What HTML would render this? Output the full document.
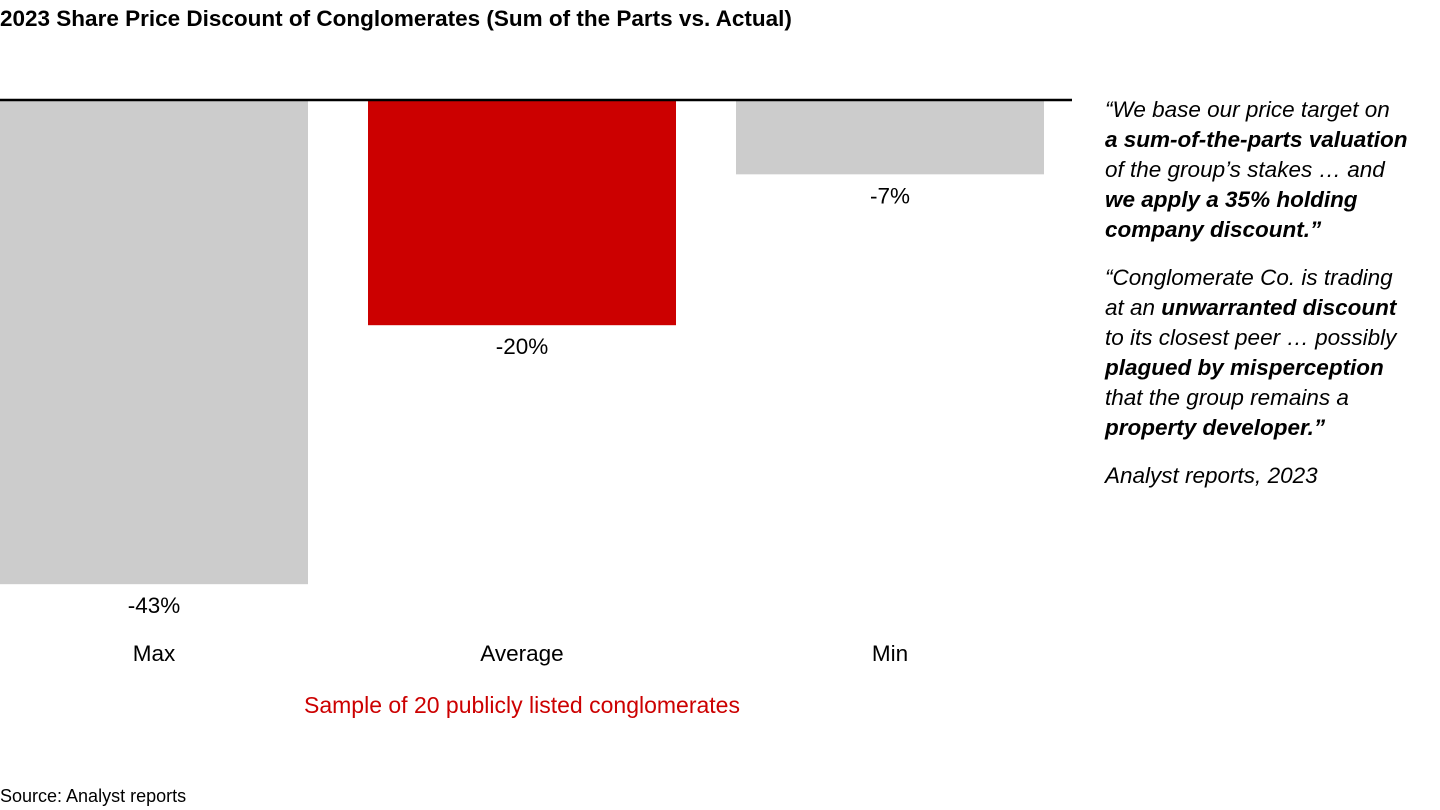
<!DOCTYPE html>
<html><head><meta charset="utf-8"><style>
body{margin:0;width:1440px;height:810px;background:#fff;font-family:"Liberation Sans",sans-serif;position:relative;overflow:hidden;color:#000}
.t{position:absolute;white-space:nowrap}
#quotes{position:absolute;left:1105px;top:95px;font-size:22.5px;font-style:italic;line-height:30px}
#quotes p{margin:0 0 18px 0}
</style></head><body>
<div class="t" style="left:0;top:6px;font-size:22.5px;font-weight:bold">2023 Share Price Discount of Conglomerates (Sum of the Parts vs. Actual)</div>
<svg id="chart" width="1080" height="740" style="position:absolute;left:0;top:0"></svg>
<div class="t" style="left:522px;top:692px;transform:translateX(-50%);font-size:23px;color:#cc0000">Sample of 20 publicly listed conglomerates</div>
<div id="quotes">
<p>“We base our price target on<br><b>a sum-of-the-parts valuation</b><br>of the group’s stakes … and<br><b>we apply a 35% holding<br>company discount.”</b></p>
<p>“Conglomerate Co. is trading<br>at an <b>unwarranted discount</b><br>to its closest peer … possibly<br><b>plagued by misperception</b><br>that the group remains a<br><b>property developer.”</b></p>
<p>Analyst reports, 2023</p>
</div>
<div class="t" style="left:0;top:786px;font-size:18px">Source: Analyst reports</div>
<script>
const categories=["Max","Average","Min"];
const values=[-43,-20,-6.6];
const valueLabels=["-43%","-20%","-7%"];
const colors=["#cccccc","#cc0000","#cccccc"];
const svg=document.getElementById('chart');
const NS="http://www.w3.org/2000/svg";
const y0=100, pxPer=11.26, barW=308, step=368;
const yS=v=>y0-v*pxPer;
const xS=i=>i*step;
categories.forEach((c,i)=>{
  const r=document.createElementNS(NS,'rect');
  
  
  r.setAttribute('x',xS(i));r.setAttribute('y',y0);
  r.setAttribute('width',barW);r.setAttribute('height',yS(values[i])-y0);
  r.setAttribute('fill',colors[i]);svg.appendChild(r);
  const t=document.createElementNS(NS,'text');
  
  
  t.setAttribute('x',xS(i)+barW/2);t.setAttribute('y',yS(values[i])+29);
  t.setAttribute('text-anchor','middle');t.setAttribute('font-size','22.5');
  t.textContent=valueLabels[i];svg.appendChild(t);
  const l=document.createElementNS(NS,'text');
  
  
  l.setAttribute('x',xS(i)+barW/2);l.setAttribute('y',661);
  l.setAttribute('text-anchor','middle');l.setAttribute('font-size','22.5');
  l.textContent=c;svg.appendChild(l);
});
const ln=document.createElementNS(NS,'line');


ln.setAttribute('x1',0);ln.setAttribute('x2',1072);ln.setAttribute('y1',y0);ln.setAttribute('y2',y0);
ln.setAttribute('stroke','#000');ln.setAttribute('stroke-width','2.5');svg.appendChild(ln);
</script>
</body></html>
